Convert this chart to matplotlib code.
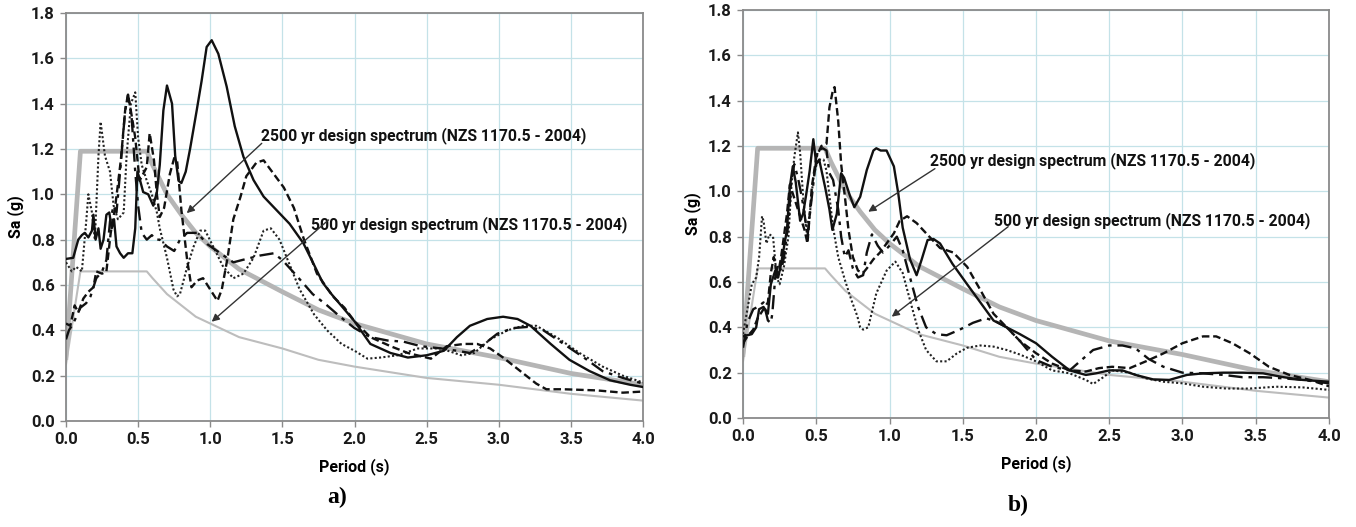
import matplotlib
matplotlib.use("Agg")
import matplotlib.pyplot as plt

# ---------------- data ----------------
design_T = [0.0, 0.1, 0.56, 0.6, 0.7, 0.8, 0.9, 1.0, 1.2, 1.5, 1.75, 2.0, 2.5, 3.0, 3.5, 4.0]
design_2500 = [0.28, 1.19, 1.19, 1.13, 1.00, 0.91, 0.83, 0.77, 0.67, 0.57, 0.49, 0.43, 0.34, 0.28, 0.21, 0.16]
design_500 = [0.25, 0.66, 0.66, 0.63, 0.56, 0.51, 0.46, 0.43, 0.37, 0.32, 0.27, 0.24, 0.19, 0.16, 0.12, 0.09]

# panel a)
a_solid_T = [0.0, 0.05, 0.085, 0.11, 0.13, 0.155, 0.18, 0.19, 0.205, 0.225, 0.24, 0.26, 0.28, 0.30, 0.317, 0.333,
             0.35, 0.375, 0.40, 0.43, 0.46, 0.48, 0.495, 0.51, 0.535, 0.57, 0.605, 0.63, 0.65, 0.675, 0.70, 0.735,
             0.757, 0.78, 0.80, 0.83, 0.86, 0.906, 0.94, 0.975, 1.01, 1.056, 1.114, 1.17, 1.23, 1.30, 1.37, 1.46,
             1.55, 1.645, 1.715, 1.78, 1.84, 1.92, 2.0, 2.11, 2.25, 2.37, 2.5, 2.62, 2.71, 2.80, 2.92, 3.03, 3.13,
             3.22, 3.36, 3.49, 3.63, 3.77, 3.91, 4.0]
a_solid = [0.715, 0.72, 0.80, 0.82, 0.83, 0.81, 0.84, 0.91, 0.80, 0.85, 0.76, 0.80, 0.91, 0.92, 0.85, 0.89,
           0.77, 0.74, 0.72, 0.74, 0.74, 0.85, 1.10, 1.07, 1.01, 1.00, 0.95, 1.01, 1.13, 1.37, 1.48, 1.40,
           1.17, 1.06, 1.05, 1.10, 1.20, 1.37, 1.50, 1.65, 1.68, 1.62, 1.475, 1.30, 1.166, 1.063, 0.99, 0.93,
           0.87, 0.785, 0.695, 0.61, 0.56, 0.50, 0.44, 0.34, 0.30, 0.28, 0.29, 0.31, 0.37, 0.42, 0.45, 0.46, 0.45,
           0.42, 0.34, 0.27, 0.22, 0.18, 0.16, 0.15]

a_dash_T = [0.0, 0.03, 0.06, 0.085, 0.12, 0.155, 0.19, 0.21, 0.25, 0.28, 0.31, 0.34, 0.38, 0.41, 0.43, 0.46,
            0.48, 0.51, 0.56, 0.58, 0.61, 0.63, 0.65, 0.68, 0.72, 0.75, 0.77, 0.80, 0.84, 0.87, 0.91, 0.95, 1.0,
            1.05, 1.08, 1.12, 1.16, 1.21, 1.25, 1.32, 1.37, 1.44, 1.51, 1.58, 1.65, 1.74, 1.85, 1.93, 2.0, 2.11,
            2.25, 2.37, 2.53, 2.64, 2.76, 2.85, 2.94, 3.03, 3.15, 3.26, 3.33, 3.45, 3.68, 3.86, 4.0]
a_dash = [0.43, 0.42, 0.51, 0.48, 0.54, 0.57, 0.59, 0.66, 0.65, 0.66, 0.83, 0.94, 1.15, 1.37, 1.44, 1.33,
          1.25, 1.06, 1.12, 1.27, 1.15, 1.0, 0.90, 0.94, 1.09, 1.16, 1.15, 0.93, 0.71, 0.59, 0.62, 0.63, 0.58,
          0.53, 0.58, 0.72, 0.89, 0.99, 1.08, 1.14, 1.15, 1.09, 1.03, 0.94, 0.80, 0.65, 0.55, 0.50, 0.44, 0.37,
          0.33, 0.30, 0.275, 0.33, 0.34, 0.34, 0.32, 0.28, 0.22, 0.165, 0.14, 0.14, 0.135, 0.125, 0.13]

a_dot_T = [0.0, 0.04, 0.07, 0.11, 0.14, 0.155, 0.18, 0.20, 0.225, 0.24, 0.27, 0.305, 0.33, 0.36, 0.40, 0.42,
           0.45, 0.48, 0.50, 0.525, 0.56, 0.595, 0.63, 0.65, 0.70, 0.745, 0.77, 0.79, 0.84, 0.885, 0.93, 0.965,
           1.02, 1.09, 1.16, 1.23, 1.30, 1.37, 1.42, 1.48, 1.55, 1.62, 1.72, 1.81, 1.91, 2.0, 2.09, 2.18, 2.30,
           2.44, 2.6, 2.74, 2.83, 2.94, 3.06, 3.17, 3.26, 3.40, 3.56, 3.72, 3.86, 4.0]
a_dot = [0.70, 0.66, 0.68, 0.66, 0.88, 1.0, 0.92, 0.80, 1.17, 1.32, 1.17, 1.10, 0.95, 0.89, 0.92, 1.17,
         1.40, 1.45, 1.25, 1.13, 1.06, 1.0, 0.92, 0.85, 0.72, 0.58, 0.55, 0.56, 0.68, 0.77, 0.84, 0.84,
         0.77, 0.68, 0.63, 0.65, 0.72, 0.84, 0.85, 0.80, 0.69, 0.58, 0.47, 0.40, 0.34, 0.31, 0.275, 0.28, 0.29,
         0.32, 0.32, 0.29, 0.30, 0.36, 0.40, 0.42, 0.42, 0.37, 0.30, 0.24, 0.20, 0.17]

a_dd_T = [0.0, 0.02, 0.05, 0.10, 0.14, 0.17, 0.21, 0.25, 0.28, 0.305, 0.33, 0.35, 0.375, 0.41, 0.43, 0.455,
          0.48, 0.50, 0.525, 0.56, 0.595, 0.62, 0.65, 0.70, 0.75, 0.79, 0.84, 0.91, 0.98, 1.07, 1.16, 1.22,
          1.345, 1.44, 1.5, 1.6, 1.71, 1.81, 1.9, 2.0, 2.11, 2.23, 2.34, 2.46, 2.6, 2.71, 2.80, 2.90, 2.99,
          3.10, 3.2, 3.31, 3.45, 3.59, 3.72, 3.86, 4.0]
a_dd = [0.36, 0.40, 0.43, 0.50, 0.52, 0.55, 0.63, 0.66, 0.71, 0.88, 0.95, 0.92, 1.10, 1.37, 1.44, 1.34,
        1.10, 0.95, 0.83, 0.80, 0.82, 0.80, 0.80, 0.77, 0.75, 0.80, 0.83, 0.83, 0.78, 0.74, 0.70, 0.71,
        0.73, 0.74, 0.71, 0.64, 0.56, 0.51, 0.46, 0.41, 0.37, 0.355, 0.35, 0.33, 0.32, 0.31, 0.30, 0.34, 0.385,
        0.41, 0.415, 0.40, 0.34, 0.28, 0.22, 0.19, 0.165]

# panel b)
b_solid_T = [0.0, 0.06, 0.09, 0.11, 0.14, 0.17, 0.19, 0.22, 0.24, 0.26, 0.30, 0.32, 0.34, 0.36, 0.39, 0.41,
             0.43, 0.455, 0.48, 0.50, 0.52, 0.56, 0.59, 0.61, 0.64, 0.67, 0.69, 0.73, 0.76, 0.80, 0.845, 0.89,
             0.91, 0.94, 0.98, 1.03, 1.06, 1.09, 1.14, 1.185, 1.22, 1.26, 1.30, 1.345, 1.43, 1.53, 1.62, 1.71,
             1.80, 1.89, 2.0, 2.11, 2.23, 2.34, 2.41, 2.5, 2.59, 2.68, 2.8, 2.91, 3.03, 3.14, 3.28, 3.41, 3.55,
             3.69, 3.82, 4.0]
b_solid = [0.36, 0.37, 0.40, 0.48, 0.49, 0.46, 0.59, 0.65, 0.62, 0.68, 0.83, 1.02, 1.11, 1.04, 0.87, 0.90,
           0.98, 1.09, 1.23, 1.12, 1.14, 1.02, 0.92, 0.83, 0.90, 1.08, 1.06, 0.98, 0.93, 0.976, 1.094, 1.18,
           1.19, 1.18, 1.18, 1.11, 0.99, 0.84, 0.70, 0.63, 0.70, 0.785, 0.79, 0.77, 0.68, 0.59, 0.51, 0.43,
           0.40, 0.37, 0.33, 0.27, 0.21, 0.19, 0.197, 0.21, 0.21, 0.19, 0.17, 0.168, 0.19, 0.197, 0.20, 0.20,
           0.197, 0.18, 0.168, 0.16]

b_dash_T = [0.0, 0.03, 0.07, 0.10, 0.14, 0.17, 0.19, 0.21, 0.235, 0.26, 0.30, 0.32, 0.35, 0.39, 0.42, 0.44,
            0.47, 0.50, 0.535, 0.57, 0.59, 0.615, 0.625, 0.65, 0.67, 0.70, 0.72, 0.75, 0.785, 0.82, 0.845, 0.89,
            0.935, 0.98, 1.03, 1.07, 1.12, 1.185, 1.25, 1.345, 1.435, 1.53, 1.62, 1.71, 1.80, 1.89, 2.0, 2.11,
            2.23, 2.34, 2.43, 2.52, 2.64, 2.75, 2.87, 3.0, 3.14, 3.23, 3.34, 3.46, 3.59, 3.73, 3.87, 4.0]
b_dash = [0.33, 0.36, 0.39, 0.44, 0.48, 0.51, 0.64, 0.71, 0.62, 0.71, 0.90, 1.03, 0.97, 0.89, 0.83, 0.77,
          1.02, 1.15, 1.20, 1.21, 1.37, 1.45, 1.46, 1.31, 1.12, 0.95, 0.83, 0.71, 0.65, 0.64, 0.66, 0.70,
          0.73, 0.77, 0.815, 0.87, 0.89, 0.86, 0.815, 0.75, 0.73, 0.667, 0.565, 0.46, 0.40, 0.34, 0.286, 0.24,
          0.21, 0.205, 0.22, 0.226, 0.22, 0.25, 0.285, 0.33, 0.36, 0.36, 0.33, 0.285, 0.226, 0.19, 0.168, 0.14]

b_dot_T = [0.0, 0.03, 0.06, 0.09, 0.11, 0.13, 0.14, 0.16, 0.18, 0.205, 0.23, 0.25, 0.28, 0.31, 0.33, 0.35,
           0.375, 0.39, 0.41, 0.43, 0.455, 0.48, 0.51, 0.55, 0.57, 0.59, 0.615, 0.65, 0.695, 0.74, 0.78, 0.80,
           0.82, 0.855, 0.91, 0.98, 1.04, 1.09, 1.14, 1.195, 1.25, 1.32, 1.39, 1.46, 1.53, 1.62, 1.71, 1.80,
           1.89, 2.0, 2.11, 2.23, 2.34, 2.39, 2.46, 2.52, 2.64, 2.75, 2.87, 3.0, 3.14, 3.30, 3.46, 3.64, 3.82, 4.0]
b_dot = [0.37, 0.48, 0.59, 0.62, 0.71, 0.89, 0.87, 0.77, 0.81, 0.80, 0.62, 0.59, 0.67, 0.80, 1.02, 1.15,
         1.26, 1.17, 0.98, 0.84, 0.89, 1.06, 1.14, 1.14, 1.09, 0.98, 0.84, 0.71, 0.61, 0.52, 0.45, 0.40,
         0.39, 0.40, 0.55, 0.65, 0.69, 0.64, 0.52, 0.39, 0.30, 0.25, 0.25, 0.285, 0.31, 0.32, 0.315, 0.30,
         0.28, 0.25, 0.21, 0.197, 0.168, 0.15, 0.18, 0.21, 0.20, 0.175, 0.16, 0.153, 0.138, 0.13, 0.13, 0.138,
         0.135, 0.124]

b_dd_T = [0.0, 0.03, 0.07, 0.10, 0.14, 0.17, 0.19, 0.20, 0.22, 0.24, 0.26, 0.28, 0.31, 0.33, 0.35, 0.375,
          0.40, 0.42, 0.44, 0.46, 0.49, 0.51, 0.545, 0.57, 0.59, 0.615, 0.65, 0.67, 0.695, 0.72, 0.75, 0.785,
          0.82, 0.845, 0.88, 0.92, 0.955, 1.0, 1.05, 1.09, 1.14, 1.195, 1.25, 1.32, 1.39, 1.48, 1.57, 1.66,
          1.73, 1.80, 1.89, 2.0, 2.11, 2.23, 2.30, 2.39, 2.5, 2.59, 2.68, 2.77, 2.87, 3.0, 3.14, 3.28, 3.41,
          3.55, 3.69, 3.82, 4.0]
b_dd = [0.31, 0.42, 0.48, 0.49, 0.51, 0.43, 0.42, 0.46, 0.62, 0.68, 0.65, 0.71, 0.86, 1.05, 1.12, 1.06,
        0.98, 0.90, 0.80, 0.92, 1.09, 1.18, 1.19, 1.18, 1.08, 1.05, 0.92, 0.80, 0.71, 0.74, 0.66, 0.62,
        0.63, 0.73, 0.81, 0.76, 0.73, 0.76, 0.80, 0.74, 0.62, 0.49, 0.40, 0.37, 0.365, 0.39, 0.42, 0.44,
        0.425, 0.40, 0.34, 0.256, 0.226, 0.21, 0.25, 0.30, 0.32, 0.32, 0.307, 0.26, 0.226, 0.20, 0.197, 0.19,
        0.18, 0.18, 0.175, 0.168, 0.153]

x_ticks = [0.0, 0.5, 1.0, 1.5, 2.0, 2.5, 3.0, 3.5, 4.0]
y_ticks = [0.0, 0.2, 0.4, 0.6, 0.8, 1.0, 1.2, 1.4, 1.6, 1.8]
label_2500 = "2500 yr design spectrum (NZS 1170.5 - 2004)"
label_500 = "500 yr design spectrum (NZS 1170.5 - 2004)"

# ---------------- figure ----------------
W, H = 1356, 527
fig = plt.figure(figsize=(W / 100, H / 100), dpi=100)
axL = fig.add_axes([66 / W, 1 - 421 / H, 577 / W, 408 / H])
axR = fig.add_axes([743 / W, 1 - 418 / H, 586 / W, 408 / H])

FONT = "Roboto"
GRID = "#c4e2e8"
SPINE = "#8a8a8a"

panels = [
    (axL, (a_solid_T, a_solid), (a_dash_T, a_dash), (a_dot_T, a_dot), (a_dd_T, a_dd),
     (1.35, 1.26), ((1.357, 1.225), (0.837, 0.917)),
     (1.70, 0.865), ((1.82, 0.887), (1.01, 0.438))),
    (axR, (b_solid_T, b_solid), (b_dash_T, b_dash), (b_dot_T, b_dot), (b_dd_T, b_dd),
     (1.276, 1.138), ((1.31, 1.10), (0.855, 0.91)),
     (1.71, 0.87), ((1.81, 0.844), (1.015, 0.447))),
]

for ax, s, d, o, dd, t25, a25, t5, a5 in panels:
    ax.set_xlim(0, 4.0)
    ax.set_ylim(0, 1.8)
    ax.set_xticks(x_ticks)
    ax.set_yticks(y_ticks)
    ax.set_xticklabels([f"{v:.1f}" for v in x_ticks], fontfamily=FONT, fontweight="bold", fontsize=12)
    ax.set_yticklabels([f"{v:.1f}" for v in y_ticks], fontfamily=FONT, fontweight="bold", fontsize=12)
    ax.grid(True, color=GRID, lw=0.9)
    ax.set_axisbelow(True)
    for sp in ax.spines.values():
        sp.set_color(SPINE)
        sp.set_linewidth(1.3)
    ax.tick_params(direction="out", length=4, width=1, color=SPINE, pad=4, labelcolor="#1a1a1a")

    ax.plot(design_T, design_500, color="#bdbdbd", lw=1.5, zorder=2)
    ax.plot(design_T, design_2500, color="#b5b5b5", lw=3.4, zorder=2)

    ax.plot(*o, color="#222222", lw=1.5, ls=(0, (1, 1.1)), zorder=3)
    ax.plot(*dd, color="#111111", lw=1.7, ls=(0, (6, 2.5, 1.5, 2.5)), zorder=3)
    ax.plot(*d, color="#111111", lw=1.7, ls=(0, (3.2, 1.6)), zorder=3)
    ax.plot(*s, color="#111111", lw=1.7, ls="-", zorder=4)

    ax.text(t25[0], t25[1], label_2500, fontfamily=FONT, fontweight="bold", fontsize=11.3,
            ha="left", va="center", color="#111111", zorder=5)
    ax.text(t5[0], t5[1], label_500, fontfamily=FONT, fontweight="bold", fontsize=11.3,
            ha="left", va="center", color="#111111", zorder=5)
    for (p0, p1) in (a25, a5):
        ax.annotate("", xy=p1, xytext=p0,
                    arrowprops=dict(arrowstyle="-|>", color="#333333", lw=1.0,
                                    mutation_scale=11, shrinkA=0, shrinkB=0), zorder=5)

    ax.set_xlabel("Period (s)", fontfamily=FONT, fontweight="bold", fontsize=11.5, labelpad=8)
    ax.set_ylabel("Sa (g)", fontfamily=FONT, fontweight="bold", fontsize=11.5, labelpad=5)

fig.text(337 / W, 1 - 497 / H, "a)", fontfamily="Liberation Serif", fontweight="bold",
         fontsize=17, ha="center", va="center")
fig.text(1018 / W, 1 - 505 / H, "b)", fontfamily="Liberation Serif", fontweight="bold",
         fontsize=17, ha="center", va="center")

fig.savefig("out.png", dpi=100, facecolor="white")
